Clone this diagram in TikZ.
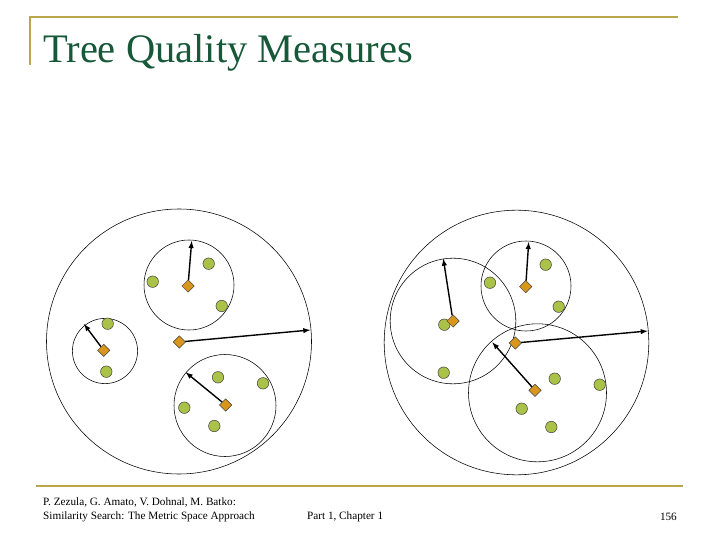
\documentclass[tikz,border=0pt]{standalone}
\usepackage{fontspec}
\setmainfont{Liberation Serif}
\usepackage{xcolor}
\usepackage{tikz}
\usetikzlibrary{shapes.geometric}

\definecolor{slidegold}{RGB}{186,166,76}
\definecolor{titlegreen}{RGB}{22,88,56}
\definecolor{objgreen}{RGB}{170,194,72}
\definecolor{pivotorange}{RGB}{216,150,28}

\tikzset{
	obj/.style={circle, draw=black!75, fill=objgreen, line width=0.5pt, inner sep=0pt, minimum size=11.5pt},
	pivot/.style={diamond, aspect=1, draw=black!75, fill=pivotorange, line width=0.5pt, inner sep=0pt, minimum size=12.5pt},
	ball/.style={draw, line width=0.55pt},
	covrad/.style={line width=1.4pt, -latex},
	footer/.style={anchor=west, inner sep=0pt, font=\fontsize{11.2}{13}\selectfont}
}

\begin{document}
\begin{tikzpicture}[x=1pt, y=-1pt]

\useasboundingbox (0,0) rectangle (720,540);

% slide frame and title
\draw[slidegold, line width=2pt] (30,65)--(30,17)--(678,17);
\draw[slidegold, line width=2.6pt] (36,486)--(683,486);
\node[anchor=base west, inner sep=0pt, text=titlegreen, font=\fontsize{40.5}{42}\selectfont] (title) at (43,63) {Tree Quality Measures};

\node[footer] (authors) at (43,502) {P. Zezula, G. Amato, V. Dohnal, M. Batko:};
\node[footer] (book) at (43,517) {Similarity Search: The Metric Space Approach};
\node[footer] (part) at (307,517) {Part 1, Chapter 1};
\node[footer, anchor=east] (page) at (677,517) {156};

% left tree
\draw[ball] (179,341.5) circle (132.5pt);
\draw[ball] (189,285) circle (45pt);
\draw[ball] (105,351) circle (32.6pt);
\draw[ball] (225,405.5) circle (51pt);

\foreach \x/\y [count=\i] in {152.7/281.7, 208.7/263.7, 221.7/306, 107.7/323.7, 106.3/371.7, 218/377.3, 263/383.3, 184.3/407.7, 214.3/426}{
	\node[obj] (lo\i) at (\x,\y) {};
}

\node[pivot] (lp) at (179.3,342) {};
\node[pivot] (lp1) at (188,286) {};
\node[pivot] (lp2) at (103.7,350.3) {};
\node[pivot] (lp3) at (225.7,405) {};

\coordinate (lr) at (310.3,330);
\coordinate (lr1) at (191.7,241);
\coordinate (lr2) at (84,324);
\coordinate (lr3) at (185.7,372.3);

\draw[covrad] (lp)--(lr);
\draw[covrad] (lp1)--(lr1);
\draw[covrad] (lp2)--(lr2);
\draw[covrad] (lp3)--(lr3);

% right tree
\draw[ball] (516.5,342.5) circle (132.3pt);
\draw[ball] (526,286) circle (45pt);
\draw[ball] (453,321) circle (62.8pt);
\draw[ball] (537.5,392.8) circle (69pt);

\foreach \x/\y [count=\i] in {545.7/264.7, 490/282.7, 558.7/306.7, 444.3/324.7, 443.7/372.7, 554.7/378.7, 599.7/384.7, 521.7/408.7, 551.3/427}{
	\node[obj] (ro\i) at (\x,\y) {};
}

\node[pivot] (rp) at (515.3,343) {};
\node[pivot] (rp1) at (525.7,286.7) {};
\node[pivot] (rp2) at (453,321) {};
\node[pivot] (rp3) at (535,390.3) {};

\coordinate (rr) at (647.7,331);
\coordinate (rr1) at (528.7,242);
\coordinate (rr2) at (443.3,258.7);
\coordinate (rr3) at (492.3,342.3);

\draw[covrad] (rp)--(rr);
\draw[covrad] (rp1)--(rr1);
\draw[covrad] (rp2)--(rr2);
\draw[covrad] (rp3)--(rr3);

\end{tikzpicture}
\end{document}
